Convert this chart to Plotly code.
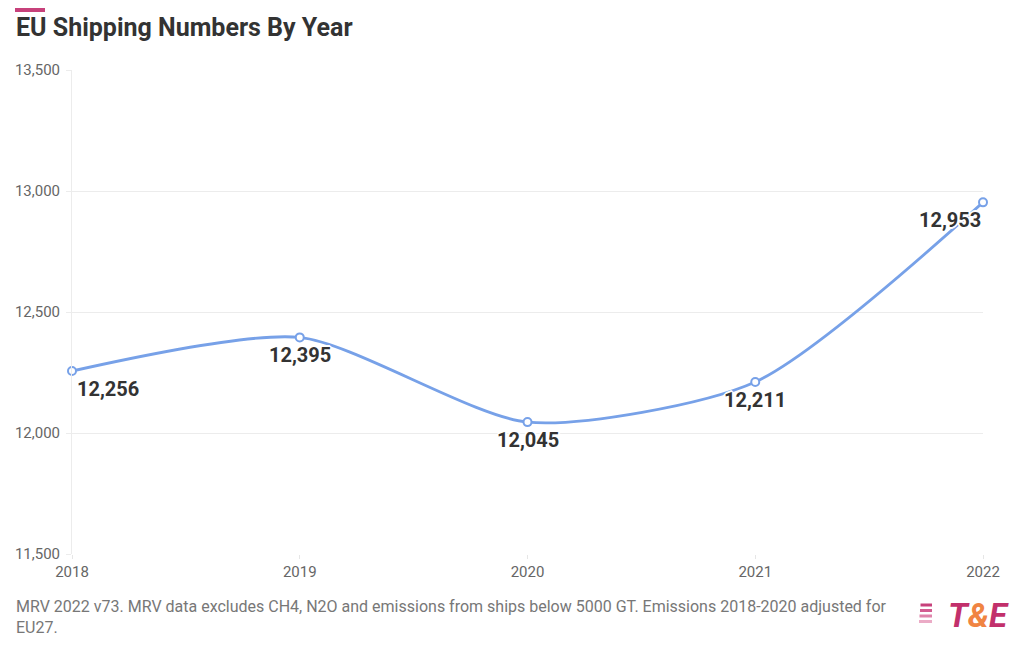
import plotly.graph_objects as go

years = [2018, 2019, 2020, 2021, 2022]
ships = [12256, 12395, 12045, 12211, 12953]
labels = ["12,256", "12,395", "12,045", "12,211", "12,953"]
y_ticks = [11500, 12000, 12500, 13000, 13500]
y_tick_text = ["11,500", "12,000", "12,500", "13,000", "13,500"]

# label placement styles (anchor, x shift in px)
label_anchor = ["left", "center", "center", "center", "right"]
label_xshift = [3, 0, 0, 0, 0]

LINE = "#77a1e8"
PINK = "#c7417b"
halo = ("-1px -1px 0 #fff, 1px -1px 0 #fff, -1px 1px 0 #fff, 1px 1px 0 #fff, "
        "0 2px 0 #fff, 0 -2px 0 #fff, 2px 0 0 #fff, -2px 0 0 #fff")

# plot area in page pixels (page has an 8px body margin)
L, R, T, B = 72, 983, 70, 554
PW, PH = R - L, B - T


def px(xp):
    return (xp - L) / PW


def py(yp):
    return (B - yp) / PH


fig = go.Figure()
fig.add_trace(go.Scatter(
    x=years, y=ships, mode="lines+markers",
    line=dict(color=LINE, width=2.8, shape="spline", smoothing=0.7),
    marker=dict(symbol="circle", size=8, color="white", line=dict(color=LINE, width=2)),
    cliponaxis=False, hoverinfo="skip", showlegend=False,
))

annotations = []
for xv, yv, t, anc, xs in zip(years, ships, labels, label_anchor, label_xshift):
    annotations.append(dict(
        x=xv, y=yv, xref="x", yref="y", text=f"<b>{t}</b>", showarrow=False,
        xanchor=anc, yanchor="middle", xshift=xs, yshift=-18,
        font=dict(family="Roboto", size=20, color="#333333", shadow=halo),
    ))

annotations += [
    dict(text="<b>EU Shipping Numbers By Year</b>", xref="paper", yref="paper",
         x=px(14), y=py(28), xanchor="left", yanchor="middle",
         showarrow=False, font=dict(family="Roboto", size=25, color="#333333")),
    dict(text="MRV 2022 v73. MRV data excludes CH4, N2O and emissions from ships below 5000 GT. Emissions 2018-2020 adjusted for<br>EU27.",
         xref="paper", yref="paper", x=px(14), y=py(617), xanchor="left", yanchor="middle",
         align="left", showarrow=False, font=dict(family="Roboto", size=16, color="#777777")),
    dict(text="<b><i><span style='color:#c2306b'>T</span><span style='color:#f08442'>&amp;</span><span style='color:#c2306b'>E</span></i></b>",
         xref="paper", yref="paper", x=px(1011), y=py(615), xanchor="right", yanchor="middle",
         showarrow=False, font=dict(family="Roboto", size=33)),
]

shapes = [
    dict(type="rect", xref="paper", yref="paper", x0=px(15), x1=px(45),
         y0=py(8), y1=py(12), fillcolor=PINK, line=dict(width=0)),
]
stripe_cols = ["#c7417b", "#d35d91", "#df84ab", "#ebabc6"]
for i, c in enumerate(stripe_cols):
    yy = 605 + i * 5.5
    shapes.append(dict(type="line", xref="paper", yref="paper", x0=px(919 + (3 - i) * 0.5), x1=px(932),
                       y0=py(yy), y1=py(yy), line=dict(color=c, width=3)))

fig.update_layout(
    width=1012, height=642,
    margin=dict(l=64, r=37, t=62, b=96, autoexpand=False),
    paper_bgcolor="white", plot_bgcolor="white",
    font=dict(family="Roboto", color="#666666", size=15),
    xaxis=dict(range=[2018, 2022], tickvals=years, ticktext=[str(y) for y in years],
               showgrid=False, zeroline=False, showline=False, automargin=False,
               ticks="outside", ticklen=4, tickcolor="#e6e6e6",
               tickfont=dict(size=15, color="#666666")),
    yaxis=dict(range=[11500, 13500], tickvals=y_ticks, ticktext=y_tick_text,
               showgrid=True, gridcolor="#ececec", gridwidth=1, zeroline=False,
               showline=True, linecolor="#ececec", linewidth=1, automargin=False,
               ticks="outside", ticklen=5, tickcolor="#ececec", ticklabelstandoff=3,
               tickfont=dict(size=15, color="#666666")),
    annotations=annotations,
    shapes=shapes,
)

fig.write_html("out.html")
